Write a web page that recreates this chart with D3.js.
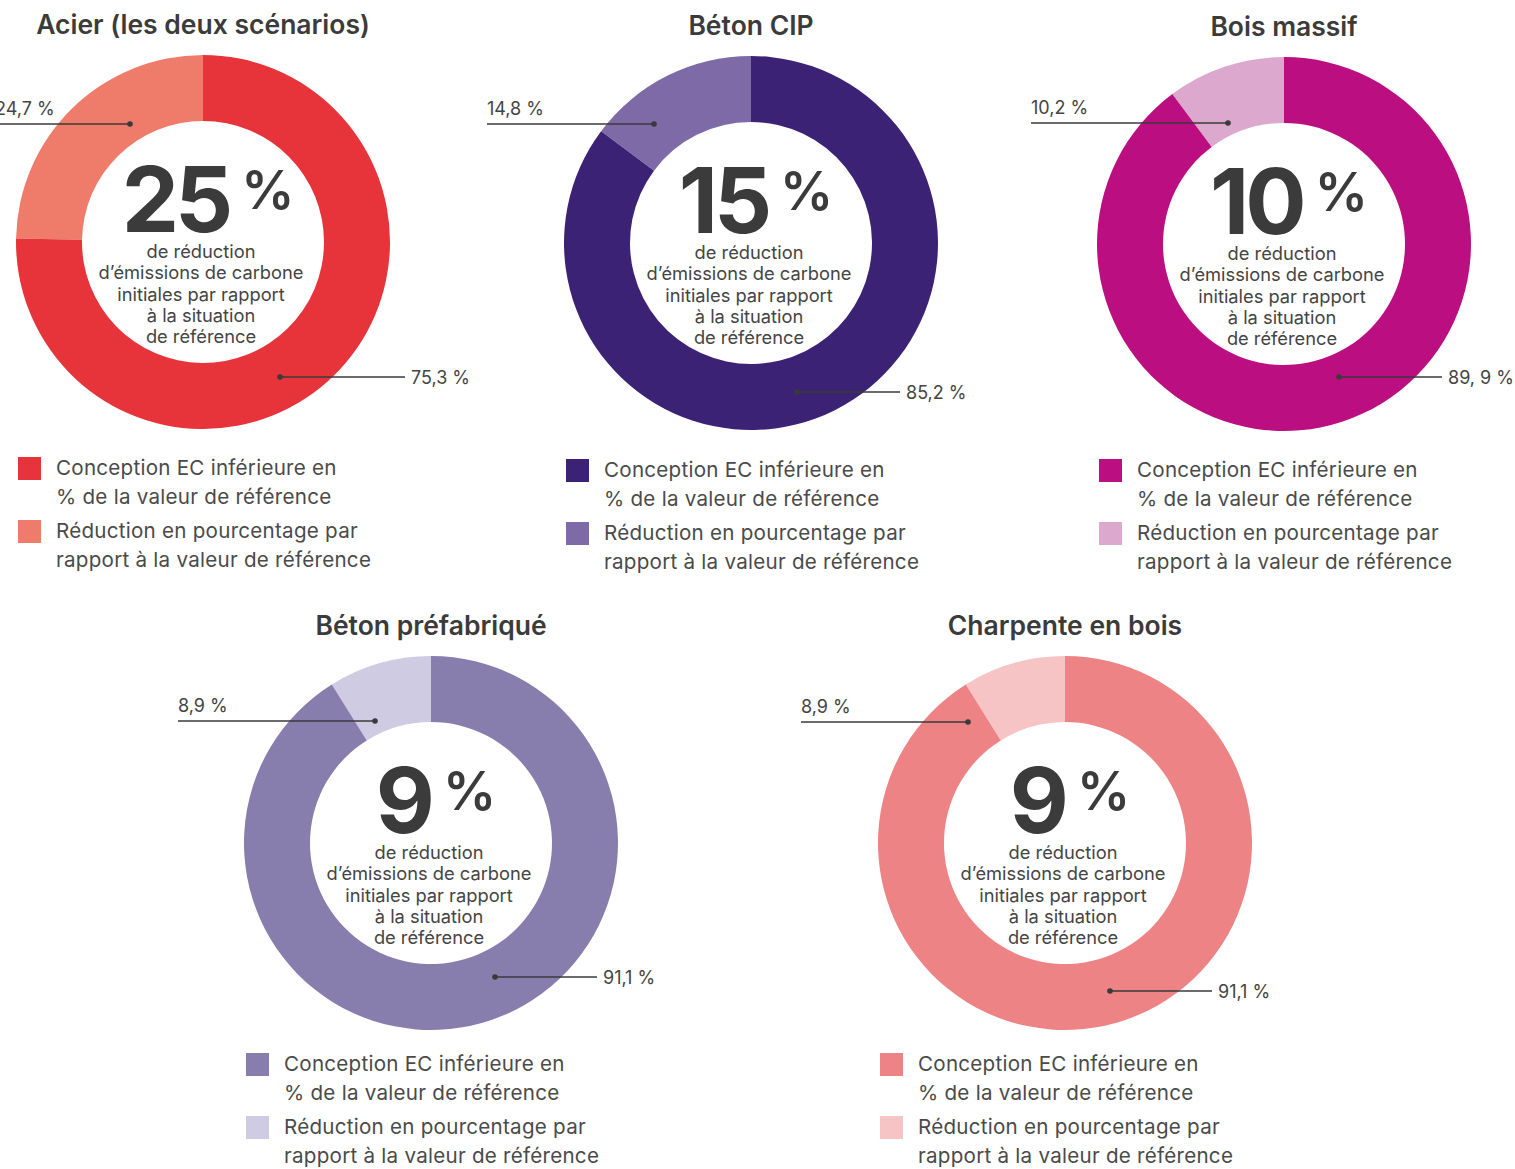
<!DOCTYPE html>
<html lang="fr">
<head>
<meta charset="utf-8">
<script src="https://cdn.jsdelivr.net/npm/d3@7"></script>
<style>
  html, body { margin: 0; padding: 0; background: #fff; }
  svg { display: block; font-family: Inter, "Open Sans", sans-serif; }
  .title { font-weight: 600; font-size: 26.5px; fill: #3b3b3b; }
  .big { font-weight: 700; font-size: 91px; fill: #3b3b3b; letter-spacing: -4px; }
  .pct { font-weight: 600; font-size: 53px; fill: #3b3b3b; }
  .sub { font-size: 18.3px; fill: #444; }
  .share { font-size: 18px; fill: #444; }
  .legend { font-size: 20.6px; fill: #4a4a4a; letter-spacing: 0.25px; }
</style>
</head>
<body>
<svg id="chart" width="1515" height="1169"></svg>
<script>
const titles = ["Acier (les deux scénarios)", "Béton CIP", "Bois massif", "Béton préfabriqué", "Charpente en bois"];
const headline = ["25", "15", "10", "9", "9"];
const lowerDesign = [75.3, 85.2, 89.9, 91.1, 91.1];
const reduction = [24.7, 14.8, 10.2, 8.9, 8.9];
const lowerLabels = ["75,3 %", "85,2 %", "89, 9 %", "91,1 %", "91,1 %"];
const reductionLabels = ["24,7 %", "14,8 %", "10,2 %", "8,9 %", "8,9 %"];
const darkColors = ["#e6343a", "#3c2275", "#bb0e80", "#877eae", "#ee8386"];
const lightColors = ["#ef7c6b", "#7f6aa8", "#dca8ce", "#cfcbe2", "#f6c4c4"];
const centerLines = ["de réduction", "d’émissions de carbone", "initiales par rapport", "à la situation", "de référence"];
const legendLines = [
  ["Conception EC inférieure en", "% de la valeur de référence"],
  ["Réduction en pourcentage par", "rapport à la valeur de référence"],
];

// layout only: donut centres and leader-line offsets
const centers = [[203, 242], [751, 243], [1284, 244], [431, 843], [1065, 843]];
const legendGap = [215, 216, 215, 210, 210];
const leaders = [
  { light: [-73, -118, -208], dark: [77, 135, 202] },
  { light: [-97, -119, -264], dark: [46, 149, 149] },
  { light: [-56, -121, -253], dark: [55, 133, 158] },
  { light: [-56, -122, -253], dark: [64, 134, 166] },
  { light: [-97, -121, -264], dark: [45, 148, 147] },
];

const outerR = 187;
const innerR = 121;
const svg = d3.select("#chart");
const arc = d3.arc().innerRadius(innerR).outerRadius(outerR);

titles.forEach((title, i) => {
  const [cx, cy] = centers[i];
  const g = svg.append("g").attr("transform", `translate(${cx},${cy})`);

  g.append("text")
    .attr("class", "title")
    .attr("x", 0)
    .attr("y", -208)
    .attr("text-anchor", "middle")
    .text(title);

  const turn = (2 * Math.PI * reduction[i]) / (reduction[i] + lowerDesign[i]);
  const pie = d3.pie().sort(null).value((d) => d.value)
    .startAngle(-turn).endAngle(2 * Math.PI - turn);
  const slices = pie([
    { value: reduction[i], color: lightColors[i] },
    { value: lowerDesign[i], color: darkColors[i] },
  ]);

  g.selectAll("path")
    .data(slices)
    .join("path")
    .attr("d", arc)
    .attr("fill", (d) => d.data.color);

  // headline number with superscript percent
  const big = g.append("text").attr("class", "big").attr("y", -10).text(headline[i]);
  const pct = g.append("text").attr("class", "pct").attr("y", -33).text("%");
  const w = big.node().getComputedTextLength();
  const p = pct.node().getComputedTextLength();
  const gap = 12;
  const start = 5 - (w + gap + p) / 2;
  big.attr("x", start);
  pct.attr("x", start + w + gap);

  g.append("g")
    .selectAll("text")
    .data(centerLines)
    .join("text")
    .attr("class", "sub")
    .attr("text-anchor", "middle")
    .attr("x", -2)
    .attr("y", (d, k) => 16 + k * 21.3)
    .text((d) => d);

  // leader lines
  const [ldx, ldy, lx0] = leaders[i].light;
  const [ddx, ddy, dx1] = leaders[i].dark;
  const lead = g.append("g").attr("stroke", "#3a3a3a").attr("stroke-width", 1.4);
  lead.append("line").attr("x1", lx0).attr("x2", ldx).attr("y1", ldy).attr("y2", ldy);
  lead.append("line").attr("x1", ddx).attr("x2", dx1).attr("y1", ddy).attr("y2", ddy);
  g.append("circle").attr("cx", ldx).attr("cy", ldy).attr("r", 2.8).attr("fill", "#3a3a3a");
  g.append("circle").attr("cx", ddx).attr("cy", ddy).attr("r", 2.8).attr("fill", "#3a3a3a");

  g.append("text").attr("class", "share").attr("x", lx0).attr("y", ldy - 9).text(reductionLabels[i]);
  g.append("text").attr("class", "share").attr("x", dx1 + 6).attr("y", ddy + 7).text(lowerLabels[i]);

  // legend
  const top = legendGap[i];
  const legend = g.append("g").attr("transform", `translate(${-185},${top})`);
  const rows = legend.selectAll("g")
    .data([darkColors[i], lightColors[i]])
    .join("g")
    .attr("transform", (d, k) => `translate(0,${k * 63})`);
  rows.append("rect").attr("width", 23).attr("height", 23).attr("fill", (d) => d);
  rows.each(function (d, k) {
    d3.select(this).selectAll("text")
      .data(legendLines[k])
      .join("text")
      .attr("class", "legend")
      .attr("x", 38)
      .attr("y", (t, j) => 18 + j * 29)
      .text((t) => t);
  });
});
</script>
</body>
</html>
